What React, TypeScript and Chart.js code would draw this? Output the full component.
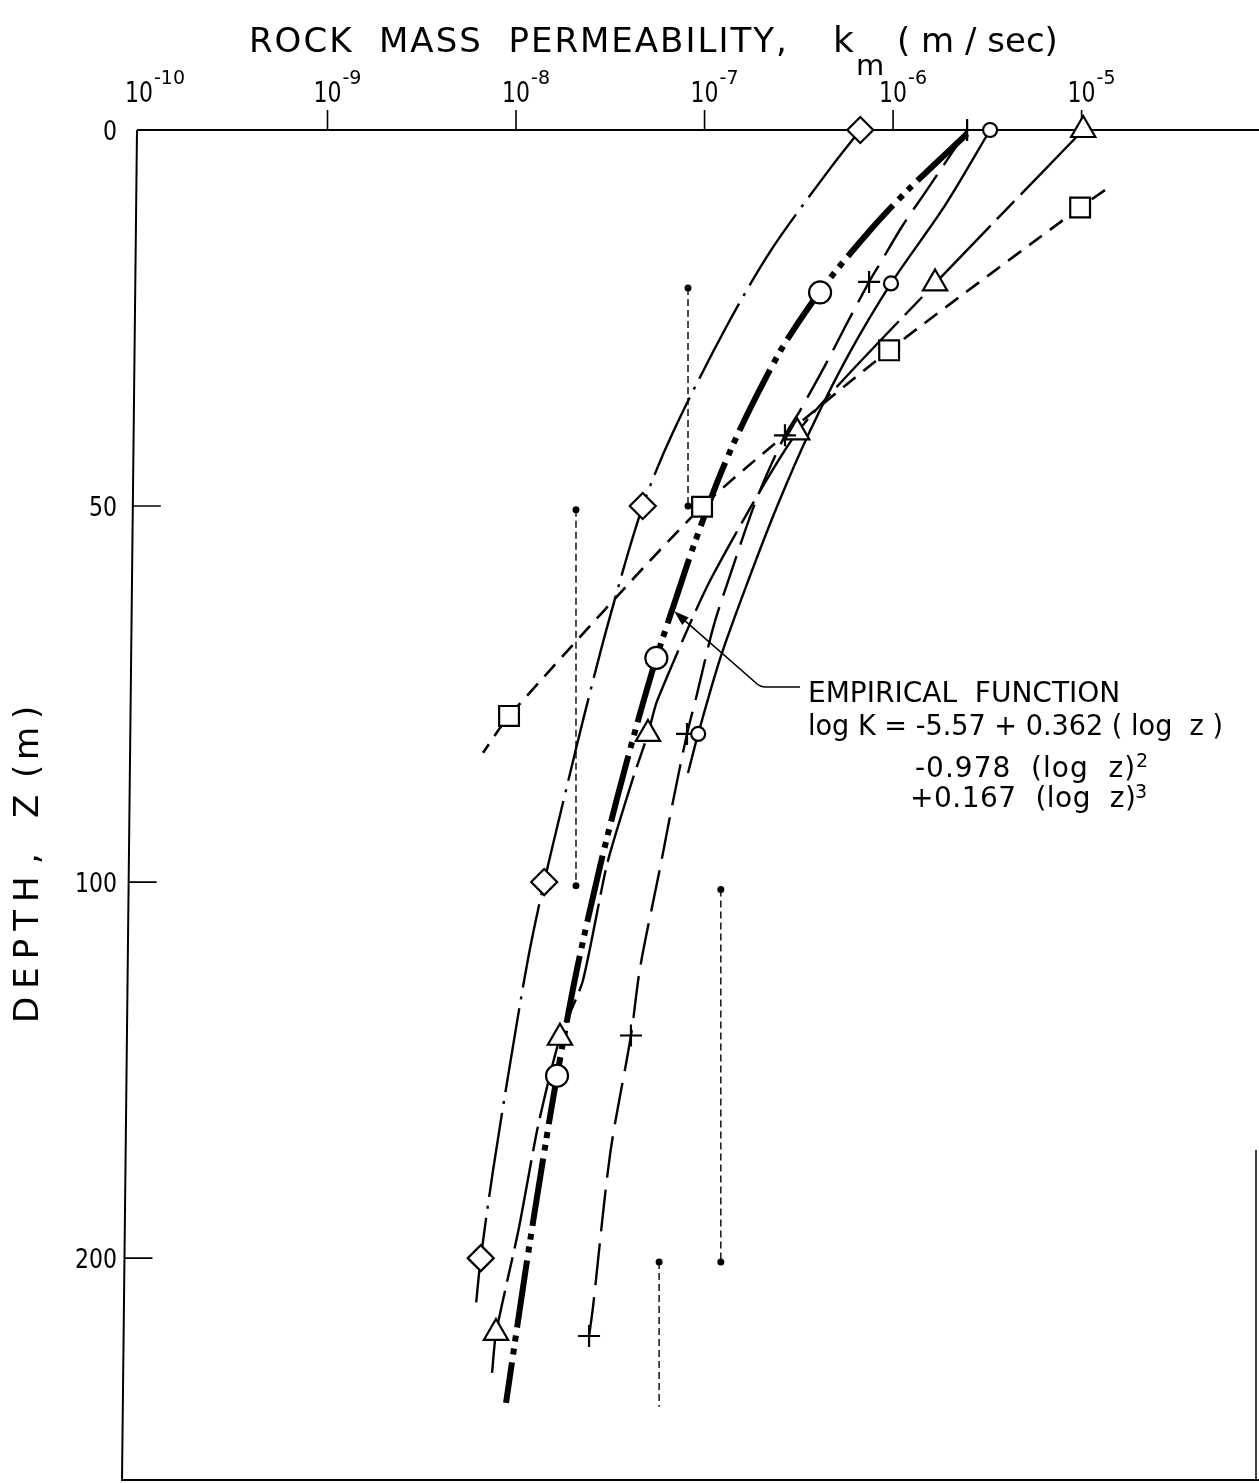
import React, { useEffect, useRef } from 'react';
import { Chart, registerables, LinearScale } from 'chart.js';

Chart.register(...registerables);

// ---------------- axis ticks ----------------
const xTickExponents = [-10, -9, -8, -7, -6, -5];
const yTickDepths = [0, 50, 100, 200];
const yTickLabels = ['0', '50', '100', '200'];

// ---------------- series (k in m/sec, depth z in m) ----------------
// diamonds, dash-dot line
const diamondK = [6.7e-7, 4.7e-8, 1.41e-8, 6.5e-9];
const diamondZ = [0, 50, 100, 200];
const diamondLineK = [6.7e-7, 4.64e-7, 2.25e-7, 1.29e-7, 6.8e-8, 4.7e-8, 3.08e-8, 2.26e-8, 1.89e-8, 1.41e-8, 1.16e-8, 9.3e-9, 7.55e-9, 6.5e-9, 6.1e-9];
const diamondLineZ = [0, 5.1, 16.0, 26.4, 40.2, 50, 65.6, 78.6, 86.6, 100, 120.2, 148.3, 176.7, 200, 213.5];

// large circles, heavy dash-dot-dot line (empirical function)
const empiricalK = [4.1e-7, 5.55e-8, 1.65e-8];
const empiricalZ = [21.6, 70.2, 151.5];
const empiricalLineK = [2.47e-6, 1.23e-6, 7.83e-7, 4.47e-7, 2.77e-7, 2.15e-7, 1.51e-7, 1.19e-7, 8.69e-8, 7.14e-8, 5.55e-8, 4.34e-8, 3.44e-8, 2.79e-8, 2.08e-8, 1.65e-8, 1.43e-8, 1.13e-8, 8.85e-9];
const empiricalLineZ = [0.5, 7.7, 12.9, 20.2, 27.7, 32.6, 40.3, 46.3, 55.5, 61.9, 70.2, 79.4, 88.8, 97.9, 124.4, 151.5, 170.0, 202.4, 238.5];

// small circles, solid line
const circleK = [3.27e-6, 9.75e-7, 9.25e-8];
const circleZ = [0, 20.4, 80.3];
const circleLineK = [3.27e-6, 1.89e-6, 9.75e-7, 5.77e-7, 3.63e-7, 2.43e-7, 1.7e-7, 1.22e-7, 9.25e-8, 8.17e-8];
const circleLineZ = [0, 10, 20.4, 30, 40, 50, 60, 70, 80.3, 85.5];

// plus signs, long-dash line
const plusK = [2.47e-6, 7.46e-7, 2.67e-7, 8.07e-8, 4.07e-8, 2.44e-8];
const plusZ = [0, 20.2, 40.6, 80.3, 140.8, 220.7];
const plusLineK = [2.47e-6, 1.51e-6, 1.13e-6, 8.32e-7, 7.46e-7, 5.56e-7, 4.36e-7, 3.21e-7, 2.67e-7, 1.9e-7, 1.32e-7, 1.11e-7, 9.12e-8, 8.07e-8, 6.81e-8, 5.81e-8, 4.55e-8, 4.07e-8, 3.16e-8, 2.56e-8, 2.44e-8];
const plusLineZ = [0, 8.0, 12.6, 18.2, 20.2, 26.2, 31.3, 37.3, 40.6, 48.9, 60.3, 66.2, 75.0, 80.3, 89.2, 98.1, 122.8, 140.8, 172.1, 213.0, 220.7];

// triangles, long dash / short dash line
const triangleK = [1.02e-5, 1.67e-6, 3.1e-7, 5.01e-8, 1.71e-8, 7.83e-9];
const triangleZ = [0, 20.4, 40.2, 80.3, 141.4, 219.9];
const triangleLineK = [1.02e-5, 1.67e-6, 3.1e-7, 1.07e-7, 5.6e-8, 5.01e-8, 4.12e-8, 3.04e-8, 2.26e-8, 1.71e-8, 1.31e-8, 1.03e-8, 7.83e-9, 7.46e-9];
const triangleLineZ = [0, 20.4, 40.2, 59.9, 75.9, 80.3, 86.6, 97.6, 126.3, 141.4, 164.7, 192.6, 219.9, 230.5];

// squares, short-dash line
const squareK = [9.82e-6, 9.53e-7, 9.7e-8, 9.18e-9];
const squareZ = [10.3, 29.3, 50.1, 77.9];
const squareLineK = [1.33e-5, 9.82e-6, 9.53e-7, 9.7e-8, 9.18e-9, 6.68e-9];
const squareLineZ = [8.0, 10.3, 29.3, 50.1, 77.9, 82.8];

// vertical range bars (dotted)
const rangeK = [8.17e-8, 2.08e-8, 1.22e-7, 5.74e-8];
const rangeTopZ = [21, 50.5, 102, 201];
const rangeBottomZ = [50, 101, 201, 239.5];
const rangeBottomDot = [true, true, true, false];

// annotation arrow target on the empirical curve
const annotK = 6.9e-8;
const annotZ = 64;

// ---------------- scale limits ----------------
const X_MIN = 9.76e-11;
const X_MAX = 8.73e-5;
const Z_MIN = 0;
const Z_MAX = 259;

// depth axis: linear to 100 m, then compressed 2:1 below
const Z_BREAK = 100;
const Z_SQUEEZE = 0.5;
const toAxis = (d: number) => (d <= Z_BREAK ? d : Z_BREAK + (d - Z_BREAK) * Z_SQUEEZE);
const fromAxis = (u: number) => (u <= Z_BREAK ? u : Z_BREAK + (u - Z_BREAK) / Z_SQUEEZE);

class BrokenDepthScale extends LinearScale {
  static id = 'brokenDepth';
  static defaults = {};
  getPixelForValue(value: number) {
    const a = toAxis(this.min);
    const b = toAxis(this.max);
    return this.getPixelForDecimal((toAxis(value) - a) / (b - a));
  }
  getValueForPixel(pixel: number) {
    const a = toAxis(this.min);
    const b = toAxis(this.max);
    return fromAxis(a + this.getDecimalForPixel(pixel) * (b - a));
  }
}
Chart.register(BrokenDepthScale as any);

const INK = '#000';
const FONT = '"DejaVu Sans", "Liberation Sans", sans-serif';
const LEFT_SLANT = 15;

const xy = (ks: number[], zs: number[]) => ks.map((k, i) => ({ x: k, y: zs[i] }));

function curve(ks: number[], zs: number[], dash: number[], width: number, tension = 0.3) {
  return {
    data: xy(ks, zs),
    showLine: true,
    borderColor: INK,
    borderWidth: width,
    borderDash: dash,
    borderCapStyle: 'butt',
    borderJoinStyle: 'round',
    tension,
    pointRadius: 0,
    pointHoverRadius: 0,
    fill: false,
    order: 2,
    clip: false,
  };
}

function markers(ks: number[], zs: number[], style: string, radius: number) {
  return {
    data: xy(ks, zs),
    showLine: false,
    pointStyle: style,
    pointRadius: radius,
    pointHoverRadius: radius,
    pointBackgroundColor: '#fff',
    pointBorderColor: INK,
    pointBorderWidth: 2.2,
    order: 0,
    clip: false,
  };
}

function text(ctx: CanvasRenderingContext2D, s: string, x: number, y: number, size: number, opts: any = {}) {
  ctx.font = `${size}px ${FONT}`;
  ctx.textAlign = opts.align || 'left';
  ctx.textBaseline = 'alphabetic';
  (ctx as any).letterSpacing = opts.spacing ? `${opts.spacing}px` : '0px';
  if (opts.maxWidth) ctx.fillText(s, x, y, opts.maxWidth);
  else ctx.fillText(s, x, y);
}

function rotText(ctx: CanvasRenderingContext2D, s: string, x: number, y: number, size: number, spacing = 0) {
  ctx.save();
  ctx.translate(x, y);
  ctx.rotate(-Math.PI / 2);
  text(ctx, s, 0, 0, size, { spacing });
  ctx.restore();
}

const decorPlugin = {
  id: 'decor',
  beforeDatasetsDraw(chart: any) {
    const { ctx, chartArea: a, scales } = chart;
    const xs = scales.x;
    const ys = scales.y;
    const axisX = (py: number) => a.left - (LEFT_SLANT * (py - a.top)) / (a.bottom - a.top);
    ctx.save();
    ctx.strokeStyle = INK;
    ctx.lineWidth = 2;
    ctx.beginPath();
    ctx.moveTo(a.left, a.top);
    ctx.lineTo(a.right, a.top);
    ctx.moveTo(a.left, a.top);
    ctx.lineTo(axisX(a.bottom), a.bottom);
    ctx.lineTo(a.right, a.bottom);
    ctx.stroke();
    ctx.lineWidth = 1.5;
    ctx.beginPath();
    ctx.moveTo(a.right - 3, a.bottom - 330);
    ctx.lineTo(a.right - 3, a.bottom);
    ctx.stroke();
    // top ticks (outward)
    ctx.lineWidth = 1.6;
    ctx.beginPath();
    xTickExponents.forEach((e) => {
      if (e === -10) return;
      const px = xs.getPixelForValue(Math.pow(10, e));
      ctx.moveTo(px, a.top);
      ctx.lineTo(px, a.top - 20);
    });
    // left ticks (inward)
    yTickDepths.forEach((d) => {
      if (d === 0) return;
      const py = ys.getPixelForValue(d);
      const ax = axisX(py);
      ctx.moveTo(ax, py);
      ctx.lineTo(ax + 28, py);
    });
    ctx.stroke();
    ctx.restore();
  },
  afterDraw(chart: any) {
    const { ctx, scales } = chart;
    const xs = scales.x;
    const ys = scales.y;
    ctx.save();
    ctx.fillStyle = INK;
    ctx.strokeStyle = INK;

    // title
    text(ctx, 'ROCK  MASS  PERMEABILITY,', 249, 52, 34, { spacing: 2, maxWidth: 548 });
    text(ctx, 'k', 833, 52, 36);
    text(ctx, 'm', 856, 75, 29);
    text(ctx, '( m / sec)', 897, 52, 34, { maxWidth: 168 });

    // x tick labels
    xTickExponents.forEach((e) => {
      const px = xs.getPixelForValue(Math.pow(10, e));
      text(ctx, '10', px, 102, 28, { align: 'center', maxWidth: 28 });
      text(ctx, String(e), px + 15, 84, 19, { maxWidth: e <= -10 ? 33 : 23 });
    });

    // y tick labels
    yTickDepths.forEach((d, i) => {
      const py = ys.getPixelForValue(d);
      const lab = yTickLabels[i];
      text(ctx, lab, 117, py + 10, 27, { align: 'right', maxWidth: 14 * lab.length });
    });

    // y axis title (rotated)
    rotText(ctx, 'DEPTH', 38, 1023, 34, 8);
    rotText(ctx, ',', 38, 864, 34);
    rotText(ctx, 'Z', 38, 818, 34);
    rotText(ctx, '(', 38, 778, 34);
    rotText(ctx, 'm', 38, 760, 34);
    rotText(ctx, ')', 38, 719, 34);

    // annotation
    text(ctx, 'EMPIRICAL  FUNCTION', 808, 702, 28, { maxWidth: 322 });
    text(ctx, 'log K = -5.57 + 0.362 ( log  z )', 808, 735, 28, { maxWidth: 415 });
    text(ctx, '-0.978  (log  z)', 915, 777, 28, { spacing: 1 });
    text(ctx, '2', 1136, 767, 19);
    text(ctx, '+0.167  (log  z)', 910, 807, 28, { spacing: 0.5 });
    text(ctx, '3', 1135, 798, 19);

    // leader with arrow to the empirical curve
    const tx = xs.getPixelForValue(annotK);
    const ty = ys.getPixelForValue(annotZ);
    const elbowX = 762;
    const elbowY = 687;
    ctx.lineWidth = 1.6;
    ctx.beginPath();
    ctx.moveTo(800, elbowY);
    ctx.lineTo(elbowX + 4, elbowY);
    ctx.quadraticCurveTo(elbowX - 2, elbowY, elbowX - 6, elbowY - 4);
    ctx.lineTo(tx + 8, ty + 7);
    ctx.stroke();
    const ang = Math.atan2(ty - (elbowY - 4), tx - (elbowX - 6));
    const L = 15;
    const W = 5;
    ctx.beginPath();
    ctx.moveTo(tx, ty);
    ctx.lineTo(tx - L * Math.cos(ang) + W * Math.sin(ang), ty - L * Math.sin(ang) - W * Math.cos(ang));
    ctx.lineTo(tx - L * Math.cos(ang) - W * Math.sin(ang), ty - L * Math.sin(ang) + W * Math.cos(ang));
    ctx.closePath();
    ctx.fill();

    ctx.restore();
  },
};

export default function App() {
  const ref = useRef<HTMLCanvasElement>(null);
  useEffect(() => {
    if (!ref.current) return;
    const rangeSets = rangeK.map((k, i) => ({
      data: xy([k, k], [rangeTopZ[i], rangeBottomZ[i]]),
      showLine: true,
      borderColor: INK,
      borderWidth: 1.4,
      borderDash: [7, 4],
      tension: 0,
      pointStyle: 'circle',
      pointRadius: [3.5, rangeBottomDot[i] ? 3.5 : 0],
      pointHoverRadius: 0,
      pointBackgroundColor: INK,
      pointBorderColor: INK,
      pointBorderWidth: 0,
      order: 1,
      clip: false,
    }));
    const datasets: any[] = [
      curve(diamondLineK, diamondLineZ, [85, 9, 3, 9], 2.4),
      curve(empiricalLineK, empiricalLineZ, [68, 8, 6, 7, 6, 8], 6),
      curve(circleLineK, circleLineZ, [], 2.4),
      curve(plusLineK, plusLineZ, [42, 12], 2.4),
      curve(triangleLineK, triangleLineZ, [90, 9, 25, 9], 2.4, 0.2),
      curve(squareLineK, squareLineZ, [16, 10], 2.6, 0.2),
      ...rangeSets,
      markers(diamondK, diamondZ, 'rectRot', 13),
      markers(empiricalK, empiricalZ, 'circle', 11),
      markers(circleK, circleZ, 'circle', 7),
      markers(plusK, plusZ, 'cross', 11),
      markers(triangleK, triangleZ, 'triangle', 14),
      markers(squareK, squareZ, 'rect', 14),
    ];
    const chart = new Chart(ref.current, {
      type: 'scatter',
      data: { datasets },
      options: {
        responsive: false,
        animation: false,
        events: [],
        layout: { autoPadding: false, padding: { left: 137, top: 130, right: 0, bottom: 3 } },
        plugins: { legend: { display: false }, tooltip: { enabled: false } },
        scales: {
          x: { type: 'logarithmic', display: false, min: X_MIN, max: X_MAX },
          y: { type: 'brokenDepth', display: false, reverse: true, min: Z_MIN, max: Z_MAX },
        },
      } as any,
      plugins: [decorPlugin],
    });
    return () => chart.destroy();
  }, []);
  return (
    <div style={{ position: 'absolute', left: 0, top: 0, width: 1259, height: 1483, background: '#fff' }}>
      <canvas ref={ref} width={1259} height={1483} style={{ display: 'block', width: 1259, height: 1483 }} />
    </div>
  );
}
